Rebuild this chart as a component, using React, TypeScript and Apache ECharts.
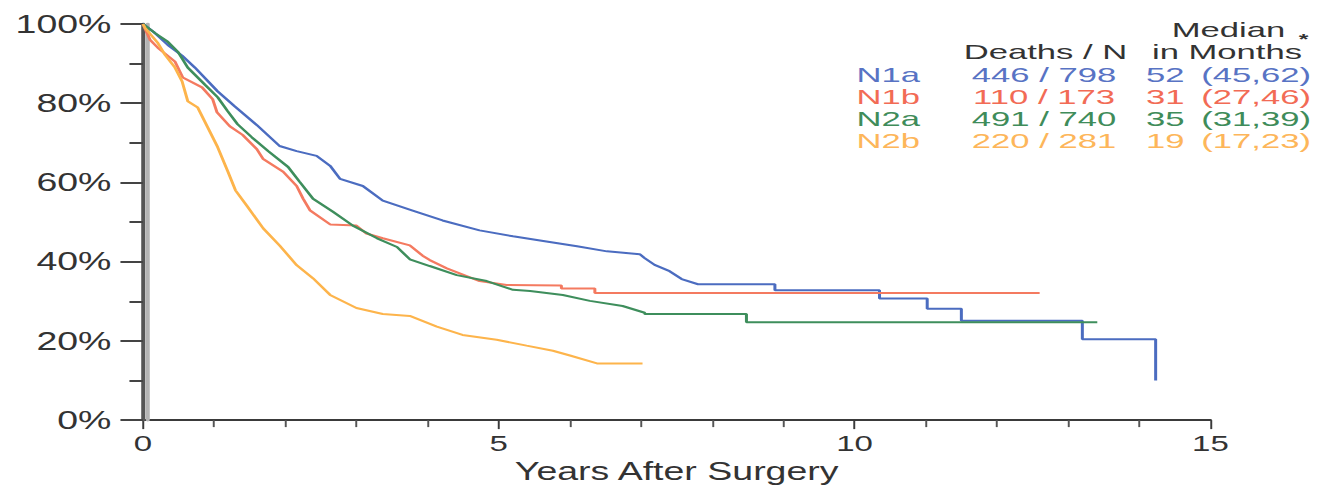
import React, { useEffect, useRef } from "react";
import * as echarts from "echarts";

const STRETCH = 1.5;
const FULL_W = 1319;
const FULL_H = 489;

const seriesNames = ["N1a", "N1b", "N2a", "N2b"];
const seriesColors = ["#4b6cc0", "#f47a60", "#3e8e5c", "#fdb44b"];
const textColors = ["#5873c4", "#f26b55", "#3f8c5a", "#fdb65a"];

const deathsN = ["446 / 798", "110 / 173", "491 / 740", "220 / 281"];
const medians = ["52", "31", "35", "19"];
const medianCI = ["(45,62)", "(27,46)", "(31,39)", "(17,23)"];

const xTicks = [0, 5, 10, 15];
const yTicks = [0, 20, 40, 60, 80, 100];

const n1a: number[][] = [
  [0, 100], [0.15, 98], [0.35, 94.7], [0.55, 92], [0.73, 89], [1.05, 83], [1.29, 79.2], [1.6, 74.5],
  [1.92, 69.2], [2.16, 67.9], [2.44, 66.7], [2.63, 64.2], [2.77, 60.9], [3.09, 59.1], [3.37, 55.4],
  [3.79, 52.9], [4.21, 50.4], [4.73, 47.9], [5.2, 46.4], [5.67, 45.1], [6.1, 43.9], [6.52, 42.6],
  [6.98, 41.9], [7.05, 40.9], [7.19, 39.2], [7.4, 37.6], [7.57, 35.6], [7.8, 34.3], [8.88, 34.3],
  [8.88, 32.8], [10.35, 32.8], [10.35, 30.7], [11.02, 30.7], [11.02, 28.1], [11.5, 28.1], [11.5, 25.1],
  [13.2, 25.1], [13.2, 20.4], [14.23, 20.4], [14.23, 10],
];

const n1b: number[][] = [
  [0, 100], [0.1, 96], [0.21, 94], [0.45, 90.5], [0.56, 86.5], [0.83, 84], [0.98, 81], [1.04, 77.7],
  [1.22, 74.2], [1.4, 72], [1.6, 68.4], [1.69, 65.9], [1.97, 62.7], [2.16, 59.1], [2.25, 55.9],
  [2.35, 52.9], [2.63, 49.4], [3.0, 49.1], [3.14, 47.1], [3.37, 45.9], [3.75, 44.1], [3.93, 41.5],
  [4.03, 40.4], [4.27, 38.3], [4.73, 35.1], [5.11, 34.1], [5.88, 34.0], [5.88, 33.2], [6.35, 33.2],
  [6.35, 32.1], [12.6, 32.1],
];

const n2a: number[][] = [
  [0, 100], [0.17, 97.7], [0.35, 95.5], [0.49, 93], [0.63, 89], [0.87, 84.7], [1.05, 81.5], [1.19, 78],
  [1.33, 74.7], [1.53, 71.4], [1.76, 67.9], [2.04, 63.9], [2.2, 60.2], [2.39, 55.9], [2.67, 52.6],
  [2.95, 49.1], [3.29, 45.9], [3.57, 43.7], [3.75, 40.6], [4.03, 38.9], [4.41, 36.6], [4.83, 35.1],
  [5.2, 32.9], [5.44, 32.6], [5.9, 31.6], [6.28, 30.1], [6.74, 28.8], [7.05, 27.1], [7.05, 26.8],
  [8.48, 26.8], [8.48, 24.7], [13.41, 24.7],
];

const n2b: number[][] = [
  [0, 100], [0.03, 99], [0.21, 95.2], [0.31, 92.2], [0.45, 89], [0.55, 85.5], [0.63, 80.5], [0.77, 78.9],
  [0.91, 73.9], [1.05, 68.9], [1.19, 62.9], [1.3, 58], [1.46, 54.1], [1.69, 48.4], [1.92, 44.1],
  [2.16, 39.1], [2.39, 35.8], [2.63, 31.6], [3.0, 28.3], [3.37, 26.8], [3.75, 26.3], [4.13, 23.6],
  [4.49, 21.5], [4.97, 20.3], [5.39, 18.8], [5.76, 17.5], [6.0, 16.3], [6.38, 14.3], [7.02, 14.3],
];

const seriesData = [n1a, n1b, n2a, n2b];

const FONT = "'Liberation Sans', Arial, Helvetica, sans-serif";
const LEG_FS = 21;
const LEG_SX = 1.1;

export default function App() {
  const ref = useRef<HTMLDivElement>(null);

  useEffect(() => {
    if (!ref.current) return;
    const chart = echarts.init(ref.current, undefined, { renderer: "svg" });

    const legendY = [75, 97, 119, 141];
    const txt = (x: number, y: number, text: string, fill: string, align: string, font = `${LEG_FS}px ${FONT}`) => ({
      type: "text",
      x,
      y,
      scaleX: LEG_SX,
      style: { text, fill, font, textAlign: align, textVerticalAlign: "middle" },
    });
    const graphicEls: any[] = [
      txt(819, 30, "Median", "#333", "center"),
      txt(697, 52, "Deaths / N", "#333", "center"),
      txt(818, 52, "in Months", "#333", "center"),
      txt(869, 39, "*", "#333", "center", `bold 15px ${FONT}`),
    ];
    seriesNames.forEach((name, i) => {
      graphicEls.push(txt(571, legendY[i], name, textColors[i], "left"));
      graphicEls.push(txt(696, legendY[i], deathsN[i], textColors[i], "center"));
      graphicEls.push(txt(764, legendY[i], medians[i], textColors[i], "left"));
      graphicEls.push(txt(874, legendY[i], medianCI[i], textColors[i], "right"));
    });

    chart.setOption({
      animation: false,
      backgroundColor: "#ffffff",
      grid: { left: 95.3, right: FULL_W / STRETCH - 807.3, top: 24, bottom: FULL_H - 423, containLabel: false },
      xAxis: {
        type: "value",
        min: xTicks[0],
        max: xTicks[xTicks.length - 1],
        interval: 5,
        name: "Years After Surgery",
        nameLocation: "middle",
        nameGap: 32,
        nameTextStyle: { fontFamily: FONT, fontSize: 25, color: "#333" },
        axisLine: { onZero: false, lineStyle: { color: "#3a3a3a", width: 2 } },
        axisTick: { show: true, length: 9, lineStyle: { color: "#3a3a3a", width: 1.3 } },
        minorTick: { show: true, splitNumber: 5, length: 7, lineStyle: { color: "#555", width: 1.3 } },
        axisLabel: { fontFamily: FONT, fontSize: 22, color: "#333", margin: 12 },
        splitLine: { show: false },
      },
      yAxis: [
        {
          type: "value",
          min: yTicks[0],
          max: yTicks[yTicks.length - 1],
          interval: 20,
          axisLine: { show: true, lineStyle: { color: "#555", width: 2.7 } },
          axisTick: { show: true, length: 15, lineStyle: { color: "#444", width: 2 } },
          minorTick: { show: true, splitNumber: 2, length: 9, lineStyle: { color: "#444", width: 2 } },
          axisLabel: { fontFamily: FONT, fontSize: 25, color: "#333", margin: 21, formatter: "{value}%" },
          splitLine: { show: false },
          z: 3,
        },
        {
          type: "value",
          position: "left",
          offset: -2.6,
          min: yTicks[0],
          max: yTicks[yTicks.length - 1],
          interval: 20,
          axisLine: { show: true, lineStyle: { color: "#b4b4b4", width: 2.7 } },
          axisTick: { show: false },
          axisLabel: { show: false },
          splitLine: { show: false },
          z: 1,
        },
      ],
      series: seriesNames.map((name, i) => ({
        name,
        type: "line",
        yAxisIndex: 0,
        data: seriesData[i],
        showSymbol: false,
        symbol: "none",
        silent: true,
        lineStyle: { color: seriesColors[i], width: 2 },
        z: 4 + i,
      })),
      graphic: graphicEls,
    });

    return () => chart.dispose();
  }, []);

  return (
    <div
      style={{ position: "fixed", left: 0, top: 0, width: FULL_W, height: FULL_H, overflow: "hidden", background: "#fff" }}
    >
      <div
        ref={ref}
        style={{ width: FULL_W / STRETCH, height: FULL_H, transform: `scaleX(${STRETCH})`, transformOrigin: "0 0" }}
      />
    </div>
  );
}
